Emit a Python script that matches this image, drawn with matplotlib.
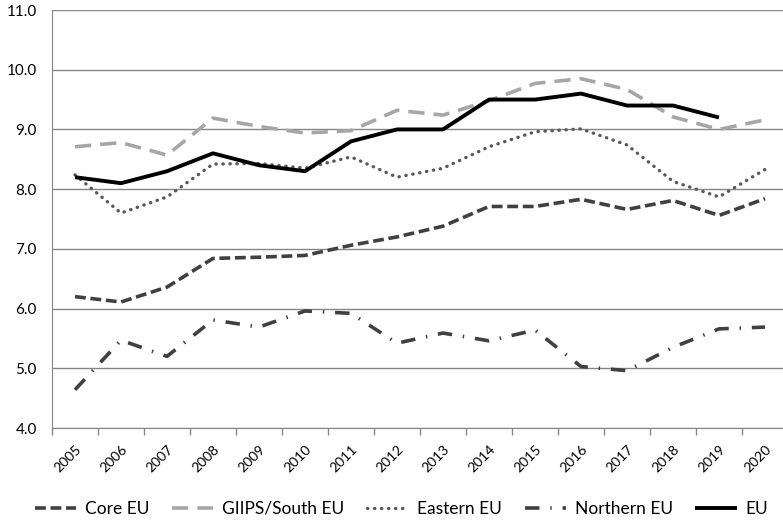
import numpy as np
import matplotlib
matplotlib.use('Agg')
import matplotlib.pyplot as plt

years = [str(y) for y in range(2005, 2021)]

core_eu = [6.20, 6.11, 6.36, 6.84, 6.86, 6.89, 7.06, 7.20, 7.38, 7.71, 7.71, 7.83, 7.66, 7.81, 7.56, 7.84]
giips = [8.71, 8.78, 8.57, 9.19, 9.05, 8.94, 8.98, 9.32, 9.24, 9.48, 9.77, 9.85, 9.67, 9.21, 9.00, 9.16]
eastern = [8.24, 7.60, 7.87, 8.42, 8.43, 8.35, 8.54, 8.20, 8.35, 8.71, 8.96, 9.01, 8.74, 8.13, 7.87, 8.33]
northern = [4.64, 5.47, 5.20, 5.81, 5.69, 5.96, 5.92, 5.42, 5.59, 5.46, 5.64, 5.03, 4.96, 5.35, 5.66, 5.69]
eu = [8.2, 8.1, 8.3, 8.6, 8.4, 8.3, 8.8, 9.0, 9.0, 9.5, 9.5, 9.6, 9.4, 9.4, 9.2, np.nan]

plt.rcParams['font.family'] = ['Lato', 'DejaVu Sans']

fig = plt.figure(figsize=(7.83, 5.21), dpi=100)
ax = fig.add_axes([52/783, 93/521, 736/783, 418/521])

x = np.arange(len(years))
ax.plot(x, core_eu, color='#404040', lw=2.6, dashes=(3.0, 1.3), label='Core EU')
ax.plot(x, giips, color='#a6a6a6', lw=2.6, dashes=(4.5, 2.5), label='GIIPS/South EU')
ax.plot(x, eastern, color='#595959', lw=2.4, dashes=(0.1, 2.0), dash_capstyle='round', label='Eastern EU')
ax.plot(x, northern, color='#404040', lw=2.6, dashes=(4.0, 3.0, 0.4, 3.0), label='Northern EU')
ax.plot(x, eu, color='black', lw=2.8, solid_capstyle='butt', label='EU')

ax.set_xlim(-0.5, 15.5)
ax.set_ylim(4, 11)
ax.set_yticks(np.arange(4, 11.01, 1))
ax.set_yticklabels(['%.1f' % v for v in np.arange(4, 11.01, 1)], fontsize=11)
ax.yaxis.grid(True, color='#868686', lw=1)
ax.set_axisbelow(True)
ax.tick_params(axis='y', length=0, pad=11)

ax.set_xticks(x)
ax.set_xticklabels(years, rotation=45, ha='right', rotation_mode='anchor', fontsize=10)
ax.set_xticks(np.arange(-0.5, 15.6, 1), minor=True)
ax.tick_params(axis='x', which='major', length=0, pad=11)
ax.tick_params(axis='x', which='minor', length=5, color='#868686', width=1)

for s in ['top', 'right']:
    ax.spines[s].set_visible(False)
for s in ['left', 'bottom']:
    ax.spines[s].set_color('#868686')

leg = ax.legend(loc='lower left', bbox_to_anchor=(-0.045, -0.25), ncol=5, frameon=False,
                fontsize=12.5, handlelength=2.4, columnspacing=1.3, handletextpad=0.5)

fig.savefig('out.png', dpi=100)
